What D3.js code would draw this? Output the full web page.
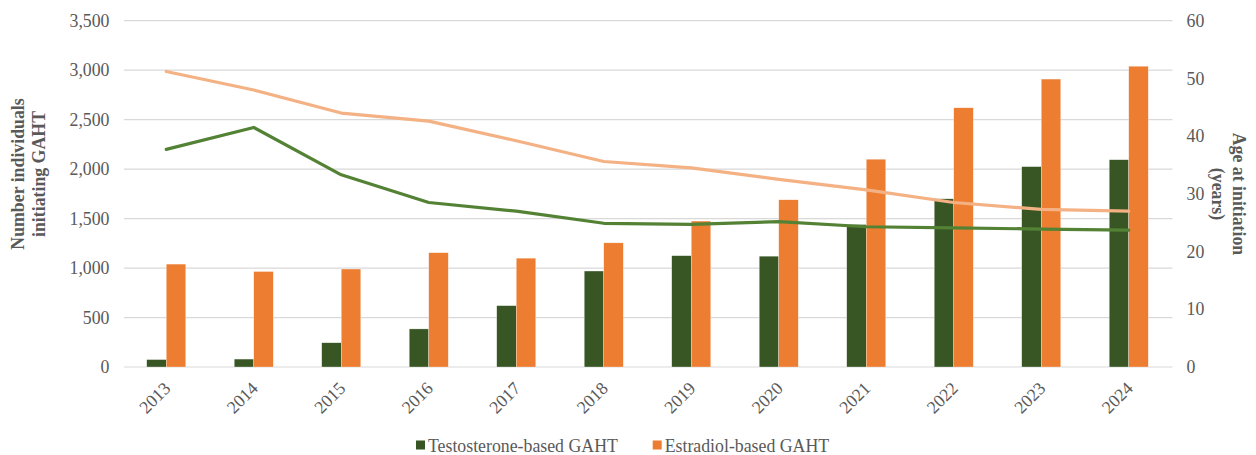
<!DOCTYPE html>
<html>
<head>
<meta charset="utf-8">
<script src="https://cdn.jsdelivr.net/npm/d3@7"></script>
<style>
  html, body { margin: 0; padding: 0; background: #fff; }
  svg { display: block; font-family: "Liberation Serif", "Times New Roman", serif; }
</style>
</head>
<body>
<svg id="chart" width="1256" height="455"></svg>
<script>
// GAHT initiations per year and mean age at initiation
const years = ["2013","2014","2015","2016","2017","2018","2019","2020","2021","2022","2023","2024"];
const testosteroneCount = [75, 80, 245, 385, 620, 970, 1125, 1120, 1440, 1700, 2025, 2095];
const estradiolCount    = [1040, 965, 990, 1155, 1100, 1255, 1475, 1690, 2100, 2620, 2910, 3040];
const testosteroneAge   = [37.7, 41.5, 33.3, 28.5, 27.0, 24.9, 24.7, 25.2, 24.3, 24.1, 23.9, 23.7];
const estradiolAge      = [51.2, 48.0, 44.0, 42.6, 39.2, 35.6, 34.5, 32.5, 30.7, 28.5, 27.3, 27.0];
const leftTicks  = [0, 500, 1000, 1500, 2000, 2500, 3000, 3500];
const rightTicks = [0, 10, 20, 30, 40, 50, 60];
const seriesNames = ["Testosterone-based GAHT", "Estradiol-based GAHT"];

const colors = {
  tBar: "#375623", eBar: "#ED7D31",
  tLine: "#548235", eLine: "#F4B183",
  grid: "#D9D9D9", text: "#595959"
};

const svg = d3.select("#chart");
const plot = { left: 122.5, right: 1172.5, top: 20.7, bottom: 367 };
const fs = "17.8px";

const x = d3.scaleBand().domain(years).range([plot.left, plot.right]).padding(0);
const yL = d3.scaleLinear().domain([0, 3500]).range([plot.bottom, plot.top]);
const yR = d3.scaleLinear().domain([0, 60]).range([plot.bottom, plot.top]);
const barW = x.bandwidth() * 0.223;

// gridlines
svg.append("g").selectAll("line").data(leftTicks).join("line")
  .attr("x1", plot.left + 1.5).attr("x2", plot.right)
  .attr("y1", d => yL(d)).attr("y2", d => yL(d))
  .attr("stroke", colors.grid).attr("stroke-width", 1.2);

// left axis
const leftAxis = svg.append("g").attr("transform", `translate(${plot.left - 13},0)`)
  .call(d3.axisLeft(yL).tickValues(leftTicks).tickFormat(d3.format(",")).tickSize(0).tickPadding(0));
leftAxis.select(".domain").remove();
leftAxis.selectAll("text").attr("fill", colors.text).style("font-size", fs)
  .style("font-family", "Liberation Serif");

// right axis
const rightAxis = svg.append("g").attr("transform", `translate(${plot.right + 14},0)`)
  .call(d3.axisRight(yR).tickValues(rightTicks).tickSize(0).tickPadding(0));
rightAxis.select(".domain").remove();
rightAxis.selectAll("text").attr("fill", colors.text).style("font-size", fs)
  .style("font-family", "Liberation Serif");

// bottom axis labels (rotated)
const bottomAxis = svg.append("g").attr("transform", `translate(0,${plot.bottom})`)
  .call(d3.axisBottom(x).tickSize(0).tickPadding(0));
bottomAxis.select(".domain").remove();
bottomAxis.selectAll("text")
  .attr("fill", colors.text).style("font-size", fs).style("font-family", "Liberation Serif")
  .attr("text-anchor", "end")
  .attr("dy", "0.35em")
  .attr("transform", "translate(1,18) rotate(-45)");

// bars
const barsG = svg.append("g");
barsG.selectAll("rect.t").data(years).join("rect").attr("class", "t")
  .attr("x", d => x(d) + x.bandwidth() / 2 - barW)
  .attr("width", barW)
  .attr("y", (d, i) => yL(testosteroneCount[i]))
  .attr("height", (d, i) => yL(0) - yL(testosteroneCount[i]))
  .attr("fill", colors.tBar).attr("stroke", "#fff").attr("stroke-width", 0.5).attr("stroke-opacity", 0.6);
barsG.selectAll("rect.e").data(years).join("rect").attr("class", "e")
  .attr("x", d => x(d) + x.bandwidth() / 2)
  .attr("width", barW)
  .attr("y", (d, i) => yL(estradiolCount[i]))
  .attr("height", (d, i) => yL(0) - yL(estradiolCount[i]))
  .attr("fill", colors.eBar).attr("stroke", "#fff").attr("stroke-width", 0.5).attr("stroke-opacity", 0.6);

// age lines
const cx = d => x(d) + x.bandwidth() / 2;
const line = arr => d3.line().x(d => cx(d)).y((d, i) => yR(arr[i]))(years);
svg.append("path").attr("d", line(estradiolAge)).attr("fill", "none")
  .attr("stroke", colors.eLine).attr("stroke-width", 3.2).attr("stroke-linecap", "round").attr("stroke-linejoin", "round");
svg.append("path").attr("d", line(testosteroneAge)).attr("fill", "none")
  .attr("stroke", colors.tLine).attr("stroke-width", 3.2).attr("stroke-linecap", "round").attr("stroke-linejoin", "round");

// axis titles
const lt = svg.append("text").attr("transform", "translate(28,174) rotate(-90)")
  .attr("text-anchor", "middle").attr("fill", colors.text)
  .style("font-size", fs).style("font-weight", "bold");
lt.append("tspan").attr("x", 0).attr("dy", "-0.25em").text("Number individuals");
lt.append("tspan").attr("x", 0).attr("dy", "1.18em").text("initiating GAHT");

const rt = svg.append("text").attr("transform", "translate(1229,194) rotate(90)")
  .attr("text-anchor", "middle").attr("fill", colors.text)
  .style("font-size", fs).style("font-weight", "bold");
rt.append("tspan").attr("x", 0).attr("dy", "-0.25em").text("Age at initiation");
rt.append("tspan").attr("x", 0).attr("dy", "1.18em").text("(years)");

// legend
const legend = svg.append("g");
const legendX = [416, 652.7];
const legendColors = [colors.tBar, colors.eBar];
seriesNames.forEach((name, i) => {
  legend.append("rect").attr("x", legendX[i]).attr("y", 440.5).attr("width", 9).attr("height", 9)
    .attr("fill", legendColors[i]);
  legend.append("text").attr("x", legendX[i] + 12).attr("y", 451.5)
    .attr("fill", colors.text).style("font-size", fs).text(name);
});
</script>
</body>
</html>
